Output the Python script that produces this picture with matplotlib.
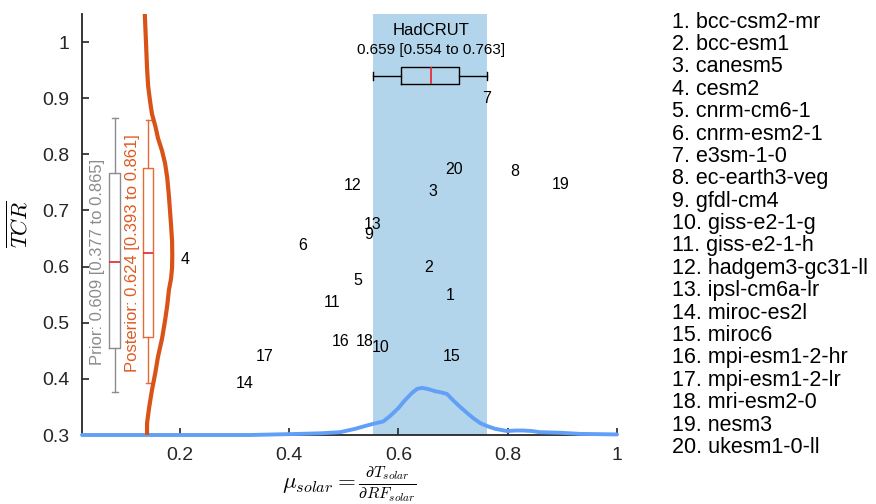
import matplotlib
matplotlib.use("Agg")
import matplotlib.pyplot as plt
import numpy as np

plt.rcParams['font.family'] = ['Liberation Sans', 'DejaVu Sans']
plt.rcParams['mathtext.fontset'] = 'cm'

# model labels (number placed at mu_solar, TCR)
model_names = ['bcc-csm2-mr', 'bcc-esm1', 'canesm5', 'cesm2', 'cnrm-cm6-1',
               'cnrm-esm2-1', 'e3sm-1-0', 'ec-earth3-veg', 'gfdl-cm4', 'giss-e2-1-g',
               'giss-e2-1-h', 'hadgem3-gc31-ll', 'ipsl-cm6a-lr', 'miroc-es2l', 'miroc6',
               'mpi-esm1-2-hr', 'mpi-esm1-2-lr', 'mri-esm2-0', 'nesm3', 'ukesm1-0-ll']
model_mu = [0.695, 0.655, 0.664, 0.210, 0.525, 0.425, 0.762, 0.812, 0.546, 0.568,
            0.479, 0.517, 0.552, 0.319, 0.697, 0.495, 0.356, 0.539, 0.896, 0.702]
model_tcr = [0.549, 0.599, 0.734, 0.613, 0.575, 0.638, 0.900, 0.769, 0.657, 0.456,
             0.536, 0.744, 0.675, 0.392, 0.439, 0.467, 0.440, 0.467, 0.746, 0.773]

# HadCRUT estimate of mu_solar
had_stats = dict(med=0.659, q1=0.604, q3=0.711, whislo=0.554, whishi=0.763)
had_pdf_x = [0.021, 0.329, 0.420, 0.457, 0.493, 0.521, 0.539, 0.554, 0.572, 0.585,
             0.600, 0.612, 0.625, 0.634, 0.643, 0.654, 0.667, 0.678, 0.689, 0.700,
             0.713, 0.726, 0.737, 0.750, 0.762, 0.777, 0.799, 0.814, 0.828, 0.845,
             0.859, 0.896, 0.932, 1.000]
had_pdf_y = [0.300, 0.300, 0.302, 0.303, 0.305, 0.311, 0.316, 0.320, 0.324, 0.334,
             0.348, 0.362, 0.375, 0.382, 0.384, 0.382, 0.378, 0.376, 0.373, 0.362,
             0.350, 0.339, 0.330, 0.321, 0.316, 0.311, 0.307, 0.308, 0.308, 0.307,
             0.305, 0.304, 0.302, 0.301]

# prior / posterior TCR
prior_stats = dict(med=0.609, q1=0.455, q3=0.767, whislo=0.377, whishi=0.865)
post_stats = dict(med=0.624, q1=0.474, q3=0.776, whislo=0.393, whishi=0.861)
post_pdf_y = [1.048, 1.002, 0.954, 0.922, 0.895, 0.872, 0.851, 0.829, 0.806, 0.784,
              0.758, 0.726, 0.700, 0.673, 0.646, 0.620, 0.598, 0.579, 0.558, 0.531,
              0.504, 0.472, 0.439, 0.410, 0.380, 0.350, 0.321, 0.300]
post_pdf_x = [0.136, 0.138, 0.140, 0.142, 0.1455, 0.149, 0.155, 0.160, 0.1675, 0.173,
              0.177, 0.180, 0.182, 0.184, 0.1858, 0.1862, 0.1858, 0.184, 0.180, 0.177,
              0.173, 0.1675, 0.160, 0.155, 0.149, 0.144, 0.140, 0.140]

fig = plt.figure(figsize=(8.76, 5.04), dpi=100)
ax = fig.add_axes([82 / 876, 69 / 504, 535 / 876, 421 / 504])

ax.axvspan(had_stats['whislo'], had_stats['whishi'], color='#B3D5EB', zorder=0, lw=0)
ax.plot(had_pdf_x, had_pdf_y, color='#62A0F8', lw=2.8, zorder=3, clip_on=False,
        solid_joinstyle='round', solid_capstyle='round')
ax.plot(post_pdf_x, post_pdf_y, color='#D95319', lw=3, zorder=3,
        solid_joinstyle='round')

red = '#E8202A'
ax.bxp([had_stats], positions=[0.940], widths=0.030, orientation='horizontal',
       showfliers=False,
       boxprops=dict(color='black', lw=1), whiskerprops=dict(color='black', lw=1),
       capprops=dict(color='black', lw=1), medianprops=dict(color=red, lw=1.2),
       manage_ticks=False)
ax.bxp([prior_stats], positions=[0.081], widths=0.020, showfliers=False,
       boxprops=dict(color='#8C8C8C', lw=1), whiskerprops=dict(color='#8C8C8C', lw=1),
       capprops=dict(color='#8C8C8C', lw=1), medianprops=dict(color=red, lw=1.2),
       manage_ticks=False)
ax.bxp([post_stats], positions=[0.142], widths=0.018, showfliers=False,
       boxprops=dict(color='#E66A35', lw=1), whiskerprops=dict(color='#E66A35', lw=1),
       capprops=dict(color='#E66A35', lw=1), medianprops=dict(color=red, lw=1.2),
       manage_ticks=False)

ax.text(had_stats['med'], 1.021, 'HadCRUT', ha='center', va='center', fontsize=12)
ax.text(had_stats['med'], 0.986,
        '%.3f [%.3f to %.3f]' % (had_stats['med'], had_stats['whislo'], had_stats['whishi']),
        ha='center', va='center', fontsize=11)
ax.text(0.050, prior_stats['med'],
        'Prior: %.3f [%.3f to %.3f]' % (prior_stats['med'], prior_stats['whislo'], prior_stats['whishi']),
        rotation=90, ha='center', va='center', fontsize=12, color='#8C8C8C')
ax.text(0.113, post_stats['med'],
        'Posterior: %.3f [%.3f to %.3f]' % (post_stats['med'], post_stats['whislo'], post_stats['whishi']),
        rotation=90, ha='center', va='center', fontsize=12, color='#E05A20')

for i, (mx, my) in enumerate(zip(model_mu, model_tcr)):
    ax.text(mx, my, str(i + 1), ha='center', va='center', fontsize=11.5, zorder=4)

ax.set_xlim(0.021, 1.0)
ax.set_ylim(0.3, 1.05)
ax.set_xticks([0.2, 0.4, 0.6, 0.8, 1.0])
ax.set_xticklabels(['0.2', '0.4', '0.6', '0.8', '1'])
ax.set_yticks([0.3, 0.4, 0.5, 0.6, 0.7, 0.8, 0.9, 1.0])
ax.set_yticklabels(['0.3', '0.4', '0.5', '0.6', '0.7', '0.8', '0.9', '1'])
ax.tick_params(direction='in', length=5, width=1.2, labelsize=14, colors='#262626', pad=9)
for side in ['top', 'right']:
    ax.spines[side].set_visible(False)
for side in ['left', 'bottom']:
    ax.spines[side].set_linewidth(1.3)
    ax.spines[side].set_color('#262626')

ax.set_xlabel(r'$\mu_{solar}=\frac{\partial T_{solar}}{\partial RF_{solar}}$', fontsize=16.5, labelpad=0)
ax.set_ylabel(r'$\overline{TCR}$', fontsize=16, labelpad=7)

for i, name in enumerate(model_names):
    fig.text(672 / 876, 1 - (22 + 22.4 * i) / 504, '%d. %s' % (i + 1, name),
             ha='left', va='center', fontsize=15.5)

fig.savefig('out.png', dpi=100)
